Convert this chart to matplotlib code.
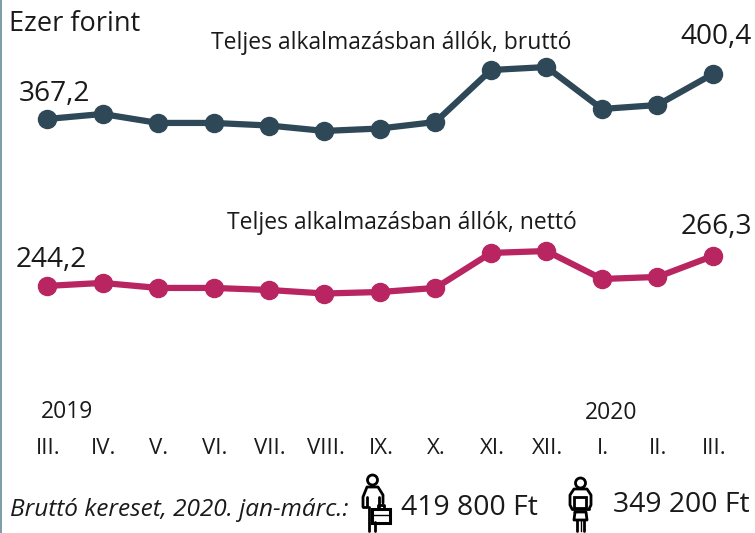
# Keresetek 2019 III. - 2020 III.
import matplotlib
matplotlib.use("Agg")
import matplotlib.pyplot as plt
from matplotlib.patches import Circle, Rectangle

plt.rcParams['font.family'] = ['Open Sans', 'DejaVu Sans']

honapok = ["III.", "IV.", "V.", "VI.", "VII.", "VIII.", "IX.", "X.", "XI.", "XII.", "I.", "II.", "III."]
brutto = [367.2, 370.9, 364.3, 364.3, 362.4, 358.4, 360.2, 365.0, 403.3, 405.5, 374.6, 377.5, 400.4]
netto = [244.2, 246.4, 242.7, 242.7, 241.2, 238.6, 239.7, 242.7, 268.5, 269.9, 249.3, 250.8, 266.3]

SOTET = "#2F4858"
MAGENTA = "#B92561"
SZOVEG = "#1a1a1a"

fig = plt.figure(figsize=(7.55, 5.33), dpi=100)

# adat tengely, a teljes kepet kitolti
ax = fig.add_axes([0, 0, 1, 1])
ax.set_xlim(-0.847, 12.757)
ax.set_ylim(62.1, 454.9)
ax.axis("off")

x = list(range(len(honapok)))
ax.plot(x, brutto, color=SOTET, lw=4.5, marker="o", ms=13, solid_joinstyle="round")
ax.plot(x, netto, color=MAGENTA, lw=4.5, marker="o", ms=13, solid_joinstyle="round")

# pixeles tengely a szovegekhez es ikonokhoz
px = fig.add_axes([0, 0, 1, 1], facecolor="none")
px.set_xlim(0, 755)
px.set_ylim(533, 0)
px.axis("off")

px.add_patch(Rectangle((0, 0), 2, 533, color="#7F9FA8", lw=0))


def szoveg(xp, yp, s, size=20.2, ha="center", **kw):
    px.text(xp, yp, s, fontsize=size, ha=ha, va="center", color=SZOVEG, **kw)


szoveg(9, 24, "Ezer forint", ha="left", size=19.5)
szoveg(54, 94, "367,2")
szoveg(51, 260, "244,2")
szoveg(716, 37, "400,4")
szoveg(716, 227, "266,3")
szoveg(391, 43, "Teljes alkalmazásban állók, bruttó", size=16.5)
szoveg(402, 223, "Teljes alkalmazásban állók, nettó", size=16.5)
szoveg(67, 412, "2019", size=16.5)
szoveg(611, 413, "2020", size=16.5)
for i, h in enumerate(honapok):
    szoveg(48 + i * 55.5, 449, h, size=16)

szoveg(10, 510, "Bruttó kereset, 2020. jan-márc.:", ha="left", size=17.6, style="italic")
szoveg(401, 508, "419 800 Ft", ha="left", size=20.4)
szoveg(613, 505, "349 200 Ft", ha="left", size=20.4)

# ferfi ikon aktataskaval
vonal = dict(color="black", lw=2, solid_capstyle="round")
px.add_patch(Circle((372.5, 480), 5, fill=False, ec="black", lw=2))
px.plot([363, 363, 367, 378, 383, 383], [507, 497, 487, 487, 495, 503], **vonal)
px.plot([363, 367, 367], [507, 507, 497], **vonal)
px.plot([369, 369], [507, 531], **vonal)
px.plot([375, 375], [522, 531], **vonal)
px.plot([379, 379], [497, 507], **vonal)
px.add_patch(Rectangle((372, 508.5), 18, 14, fill=False, ec="black", lw=2.2))
px.plot([378, 378, 384, 384], [508, 505, 505, 508], **vonal)
px.plot([372, 390], [515, 515], color="black", lw=1)

# noi ikon taskaval
px.add_patch(Circle((580.5, 483), 5, fill=False, ec="black", lw=2))
px.plot([572, 570, 570, 574, 587, 591, 591, 589], [509, 505, 495, 489, 489, 495, 505, 509], **vonal)
px.plot([572, 589], [509, 509], **vonal)
px.add_patch(Rectangle((574, 497), 12, 11, fill=False, ec="black", lw=2))
px.plot([575, 574, 587, 586, 575], [512, 520, 520, 512, 512], **vonal)
px.plot([577, 577], [520, 531], **vonal)
px.plot([584, 584], [520, 531], **vonal)
px.plot([580.5, 580.5], [520, 531], color="black", lw=1)

fig.savefig("out.png", dpi=100)
